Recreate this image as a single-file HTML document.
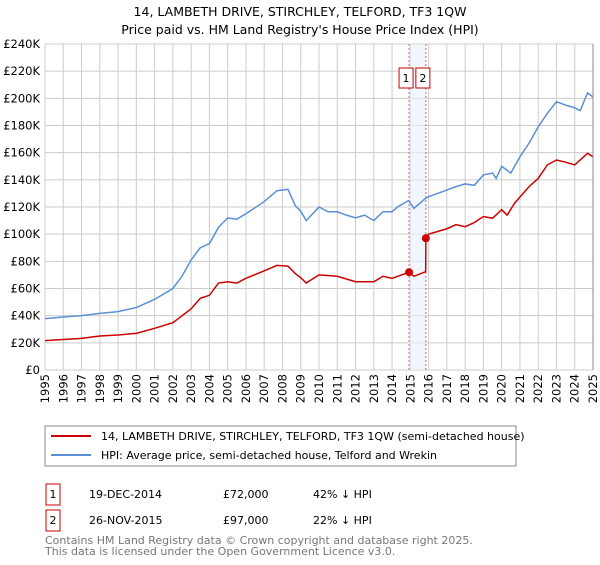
<!DOCTYPE html>
<html><head><meta charset="utf-8"><style>
body{margin:0;background:#fff;font-family:"Liberation Sans","DejaVu Sans",sans-serif;}
svg text{font-family:"DejaVu Sans","Liberation Sans",sans-serif;}
</style></head><body>
<svg id="c" width="600" height="560" xmlns="http://www.w3.org/2000/svg">
<text x="300" y="16" text-anchor="middle" font-size="12.5">14, LAMBETH DRIVE, STIRCHLEY, TELFORD, TF3 1QW</text>
<text x="300" y="34" text-anchor="middle" font-size="12.5">Price paid vs. HM Land Registry's House Price Index (HPI)</text>
<g id="grid"></g><g id="plot"></g>
<rect x="45" y="426" width="471" height="40" fill="#fff" stroke="#888"/>
<line x1="51" y1="436" x2="91" y2="436" stroke="#cc0000" stroke-width="2"/>
<text x="101" y="440" font-size="11">14, LAMBETH DRIVE, STIRCHLEY, TELFORD, TF3 1QW (semi-detached house)</text>
<line x1="51" y1="455" x2="91" y2="455" stroke="#5b8fd4" stroke-width="2"/>
<text x="101" y="459" font-size="11">HPI: Average price, semi-detached house, Telford and Wrekin</text>
<g>
<rect x="46" y="484" width="14" height="21" fill="#fff" stroke="#cc0000"/><text x="53" y="498" font-size="11" text-anchor="middle">1</text>
<text x="89" y="498" font-size="11">19-DEC-2014</text><text x="223" y="498" font-size="11">£72,000</text><text x="313" y="498" font-size="11">42% ↓ HPI</text></g>
<g>
<rect x="46" y="510" width="14" height="21" fill="#fff" stroke="#cc0000"/><text x="53" y="524" font-size="11" text-anchor="middle">2</text>
<text x="89" y="524" font-size="11">26-NOV-2015</text><text x="223" y="524" font-size="11">£97,000</text><text x="313" y="524" font-size="11">22% ↓ HPI</text></g>
<text x="45" y="544" font-size="11" fill="#777">Contains HM Land Registry data © Crown copyright and database right 2025.</text>
<text x="45" y="555" font-size="11" fill="#777">This data is licensed under the Open Government Licence v3.0.</text>
</svg>
<script>
const yTicks=[0,20,40,60,80,100,120,140,160,180,200,220,240];
const xYears=[1995,1996,1997,1998,1999,2000,2001,2002,2003,2004,2005,2006,2007,2008,2009,2010,2011,2012,2013,2014,2015,2016,2017,2018,2019,2020,2021,2022,2023,2024,2025];
const hpiT=[1995,1996,1997,1998,1999,2000,2001,2002,2002.5,2003,2003.5,2004,2004.5,2005,2005.5,2006,2007,2007.7,2008.3,2008.7,2009,2009.3,2010,2010.5,2011,2011.5,2012,2012.5,2013,2013.5,2014,2014.3,2014.9,2015.2,2015.8,2016,2017,2017.5,2018,2018.5,2019,2019.5,2019.7,2020,2020.5,2021,2021.5,2022,2022.5,2023,2023.5,2024,2024.3,2024.7,2025];
const hpiV=[37.8,39,40,41.7,43,46,52,60,69,81,90,93,105,112,111,115,124,132,133,121,117,110,120,116.5,116.5,114,112,114,110,116.5,116.5,120,124.7,119,126,127.6,132.5,135,137,136,143.6,145,141,150,145,157,167,179,189,197.5,195,193,191,204,201];
const priceT=[1995,1997,1998,1999,2000,2001,2002,2003,2003.5,2004,2004.5,2005,2005.5,2006,2007,2007.7,2008.3,2008.7,2009,2009.3,2010,2011,2012,2013,2013.5,2014,2014.93,2015.2,2015.84,2015.85,2016,2017,2017.5,2018,2018.5,2019,2019.5,2020,2020.3,2020.7,2021.5,2022,2022.5,2023,2023.5,2024,2024.7,2025];
const priceV=[21.6,23.3,25,25.8,27,30.7,34.8,45,52.8,55,64,65,64,67.5,73,77,76.5,71,68,64,70,69,65,65,69,67.5,72,69,72.4,97,100,104,107,105.5,108.5,113,111.7,118,114,122.7,135,141,151,154.6,153,151,159.5,157];
const saleT=[2014.93,2015.85];
const saleV=[72,97];
const X=y=>45+(y-1995)*(548/30), Y=v=>370-v*(326/240);
const NS="http://www.w3.org/2000/svg";
function mk(t,a,p){const e=document.createElementNS(NS,t);for(const k in a)e.setAttribute(k,a[k]);p.appendChild(e);return e;}
const g=document.getElementById('grid'),p=document.getElementById('plot');
yTicks.forEach(v=>{const l=mk('line',{x1:45,x2:593,y1:Y(v),y2:Y(v),stroke:'#ccc'},g);


const t=mk('text',{x:40,y:Y(v)+4,'text-anchor':'end','font-size':11.5},g);t.textContent=v===0?'£0':'£'+v+'K';

});
xYears.forEach(y=>{const l=mk('line',{x1:X(y),x2:X(y),y1:44,y2:370,stroke:'#ccc'},g);


const t=mk('text',{transform:`translate(${X(y)+4},374) rotate(-90)`,'text-anchor':'end','font-size':11.5},g);t.textContent=y;

});
const band=mk('rect',{x:X(saleT[0]),y:44,width:X(saleT[1])-X(saleT[0]),height:326,fill:'#e8f0fc',opacity:0.6},p);


saleT.forEach((t,i)=>{const l=mk('line',{x1:X(t),x2:X(t),y1:44,y2:370,stroke:'#e06060','stroke-dasharray':'2,2'},p);


const bx=i===0?X(t)-10:X(t)-10;
const r=mk('rect',{x:bx,y:68,width:14,height:20,fill:'#fff',stroke:'#cc0000'},p);


const tx=mk('text',{x:bx+7,y:82,'text-anchor':'middle','font-size':11},p);tx.textContent=i+1;

});
const hp=mk('polyline',{points:hpiT.map((t,i)=>X(t)+','+Y(hpiV[i])).join(' '),fill:'none',stroke:'#5b8fd4','stroke-width':1.5},p);


const pp=mk('polyline',{points:priceT.map((t,i)=>X(t)+','+Y(priceV[i])).join(' '),fill:'none',stroke:'#cc0000','stroke-width':1.5},p);


saleT.forEach((t,i)=>{const c=mk('circle',{cx:X(t),cy:Y(saleV[i]),r:4,fill:'#cc0000'},p);

});
const ax=mk('line',{x1:593,x2:593,y1:44,y2:370,stroke:'#888'},p);


</script>
</body></html>
